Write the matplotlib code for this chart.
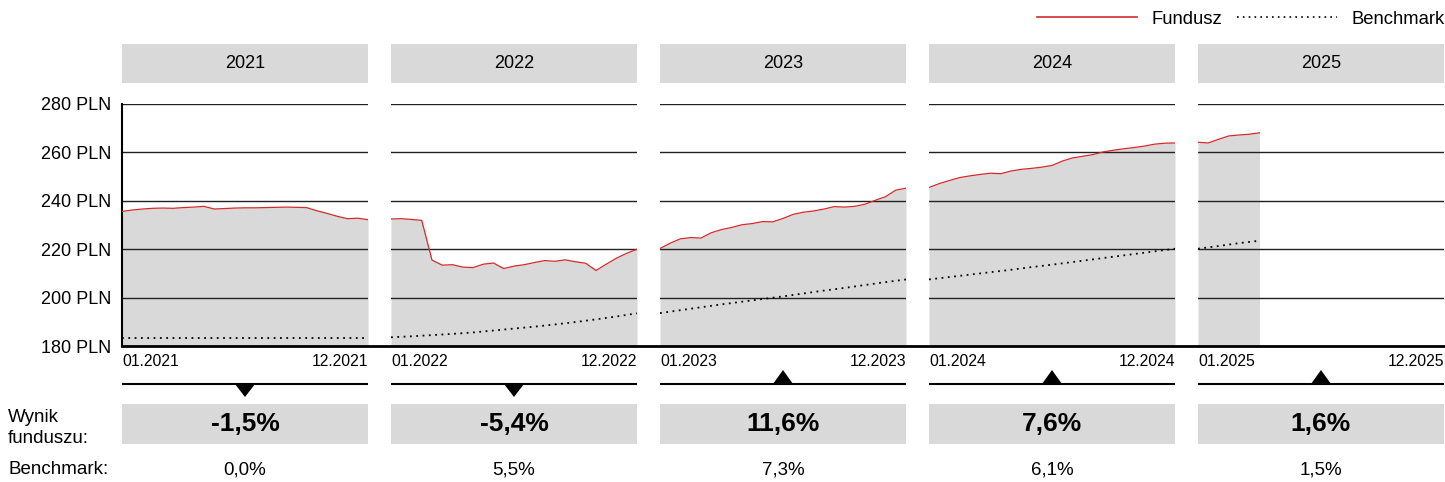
import numpy as np
import matplotlib.pyplot as plt
from matplotlib.lines import Line2D
from matplotlib.patches import Polygon

plt.rcParams['font.family'] = ['Liberation Sans', 'DejaVu Sans']

# data (fund: half-month points, benchmark: monthly)
years = ['2021', '2022', '2023', '2024', '2025']

fund_2021 = [235.6, 236.2, 236.6, 236.9, 237.0, 236.9, 237.2, 237.4, 237.7, 236.6,
             236.8, 237.0, 237.1, 237.1, 237.2, 237.3, 237.4, 237.3, 237.2, 235.9,
             234.8, 233.6, 232.6, 232.8, 232.2]
fund_2022 = [232.5, 232.6, 232.3, 231.9, 215.5, 213.4, 213.6, 212.6, 212.4, 213.8,
             214.3, 212.0, 213.0, 213.6, 214.5, 215.3, 215.0, 215.6, 214.8, 214.2,
             211.2, 213.8, 216.3, 218.3, 220.0]
fund_2023 = [220.3, 222.5, 224.3, 224.8, 224.6, 226.8, 228.1, 229.0, 230.1, 230.6,
             231.4, 231.3, 232.7, 234.4, 235.3, 235.8, 236.6, 237.6, 237.4, 237.7,
             238.6, 240.2, 241.7, 244.4, 245.2]
fund_2024 = [245.5, 247.1, 248.4, 249.6, 250.3, 250.9, 251.4, 251.2, 252.3, 253.0,
             253.4, 253.9, 254.6, 256.4, 257.7, 258.4, 259.1, 260.2, 260.9, 261.5,
             262.0, 262.6, 263.4, 263.8, 263.9]
fund_2025 = [264.2, 263.9, 265.4, 266.8, 267.2, 267.5, 268.1]

bench_2021 = [183.3] * 13
bench_2022 = [183.6, 184.0, 184.5, 185.0, 185.6, 186.4, 187.2, 188.0, 188.9, 189.9,
              191.0, 192.2, 193.5]
bench_2023 = [193.6, 194.8, 196.0, 197.2, 198.3, 199.4, 200.5, 201.7, 202.9, 204.0,
              205.2, 206.4, 207.5]
bench_2024 = [207.5, 208.5, 209.5, 210.5, 211.5, 212.6, 213.6, 214.7, 215.8, 216.9,
              218.0, 219.1, 220.2]
bench_2025 = [220.2, 221.3, 222.5, 223.5]

fund = [fund_2021, fund_2022, fund_2023, fund_2024, fund_2025]
bench = [bench_2021, bench_2022, bench_2023, bench_2024, bench_2025]

fund_ret = [-1.5, -5.4, 11.6, 7.6, 1.6]
bench_ret = [0.0, 5.5, 7.3, 6.1, 1.5]
y_ticks = [180, 200, 220, 240, 260, 280]

W, H = 1445, 482
GRAY = '#d9d9d9'
RED = '#d42a2a'


def box(x0, y0, w, h):
    # pixel box (from top-left) -> figure fraction rect
    return [x0 / W, 1 - (y0 + h) / H, w / W, h / H]


def pct(v):
    return f'{v:.1f}%'.replace('.', ',')


fig = plt.figure(figsize=(W / 100, H / 100), dpi=100)

left0, pitch, pw = 122, 269, 246

for i, yr in enumerate(years):
    left = left0 + i * pitch

    # header
    hx = fig.add_axes(box(left, 44, pw, 39))
    hx.set_facecolor(GRAY)
    hx.set_xticks([]); hx.set_yticks([])
    for s in hx.spines.values():
        s.set_visible(False)
    hx.text(0.5, 0.5, yr, ha='center', va='center', fontsize=13, transform=hx.transAxes)

    # main plot
    ax = fig.add_axes(box(left, 104, pw, 242))
    f = fund[i]
    b = bench[i]
    xf = np.arange(len(f)) / 24
    xb = np.arange(len(b)) / 12
    ax.fill_between(xf, 180, f, color=GRAY, lw=0, zorder=1)
    for t in y_ticks[1:]:
        ax.axhline(t, color='#222222', lw=1, zorder=2)
    ax.plot(xf, f, color=RED, lw=0.9, zorder=3)
    ax.plot(xb, b, color='black', lw=1.3, ls=(0, (1, 2.5)), zorder=4)
    ax.set_xlim(0, 1)
    ax.set_ylim(180, 280)
    for s in ax.spines.values():
        s.set_visible(False)
    ax.set_xticks([0, 1], ['01.' + yr, '12.' + yr])
    ax.tick_params(axis='x', length=0, pad=6, labelsize=11.3)
    lbls = ax.get_xticklabels()
    lbls[0].set_ha('left')
    lbls[1].set_ha('right')
    if i == 0:
        ax.set_yticks(y_ticks, [f'{t} PLN' for t in y_ticks])
        ax.tick_params(axis='y', length=0, pad=8, labelsize=13)
        ax.spines['left'].set_visible(True)
        ax.spines['left'].set_linewidth(1.5)
    else:
        ax.set_yticks([])

    # direction marker
    mx = fig.add_axes(box(left, 365, pw, 36))
    mx.set_xlim(0, pw)
    mx.set_ylim(401, 365)
    mx.axis('off')
    mx.axhline(384, color='black', lw=1.5)
    cx = pw / 2
    if fund_ret[i] >= 0:
        tri = [(cx - 10, 384), (cx + 10, 384), (cx, 370)]
    else:
        tri = [(cx - 10, 384), (cx + 10, 384), (cx, 397)]
    mx.add_patch(Polygon(tri, closed=True, color='black', lw=0))

    # fund result box
    px = fig.add_axes(box(left, 404, pw, 40))
    px.set_facecolor(GRAY)
    px.set_xticks([]); px.set_yticks([])
    for s in px.spines.values():
        s.set_visible(False)
    px.text(0.5, 0.5, pct(fund_ret[i]), ha='center', va='center', fontsize=19,
            fontweight='bold', transform=px.transAxes)

    # benchmark result
    fig.text((left + pw / 2) / W, 1 - 470 / H, pct(bench_ret[i]), ha='center',
             va='center', fontsize=13.5)

# baseline across all panels
fig.add_artist(Line2D([left0 / W, 1], [1 - 346 / H] * 2, color='black', lw=2))

fig.text(8 / W, 1 - 428 / H, 'Wynik\nfunduszu:', ha='left', va='center', fontsize=13.5,
         linespacing=1.25)
fig.text(8 / W, 1 - 470 / H, 'Benchmark:', ha='left', va='center', fontsize=13.5)

handles = [Line2D([], [], color=RED, lw=1.2),
           Line2D([], [], color='black', lw=1.2, ls=(0, (1, 2.5)))]
fig.legend(handles, ['Fundusz', 'Benchmark'], loc='center right',
           bbox_to_anchor=(1.0, 1 - 19 / H), ncol=2, frameon=False, fontsize=13.3,
           handlelength=5.4, handletextpad=0.8, columnspacing=0.8,
           borderpad=0, borderaxespad=0)

fig.savefig('out.png', dpi=100)
